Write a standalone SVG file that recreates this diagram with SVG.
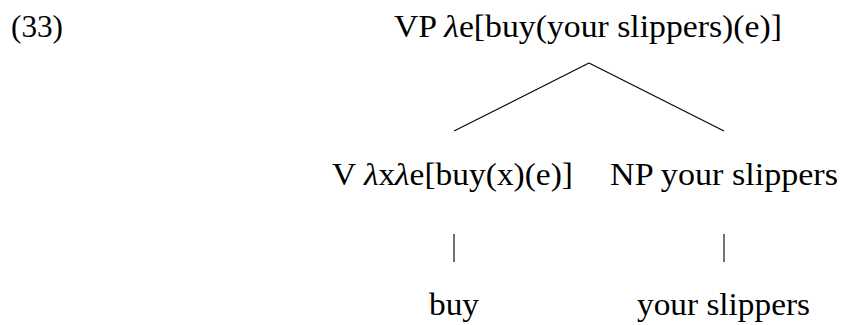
<svg xmlns="http://www.w3.org/2000/svg" width="843" height="325" viewBox="0 0 843 325">
<style>
text{font-family:"Liberation Serif","Times New Roman",serif;font-size:32px;fill:#000}
.l{font-style:italic}
line{stroke:#000;stroke-width:1.1}
</style>
<rect width="843" height="325" fill="#fff"/>
<text id="ex" x="11" y="37" textLength="52" lengthAdjust="spacingAndGlyphs">(33)</text>
<g id="vp"><text x="394" y="37" textLength="388" lengthAdjust="spacingAndGlyphs">VP <tspan class="l">λ</tspan>e[buy(your slippers)(e)]</text></g>
<g id="v"><text x="332" y="185" textLength="241" lengthAdjust="spacingAndGlyphs">V <tspan class="l">λ</tspan>x<tspan class="l">λ</tspan>e[buy(x)(e)]</text></g>
<g id="np"><text x="610" y="185" textLength="228" lengthAdjust="spacingAndGlyphs">NP your slippers</text></g>
<g id="buy"><text x="429" y="315" textLength="50" lengthAdjust="spacingAndGlyphs">buy</text></g>
<g id="ys"><text x="637" y="315" textLength="173" lengthAdjust="spacingAndGlyphs">your slippers</text></g>
<g id="connectors">
<line x1="589" y1="63" x2="454" y2="131"/>
<line x1="589" y1="63" x2="724" y2="131"/>
<line x1="454" y1="234" x2="454" y2="262"/>
<line x1="724" y1="234" x2="724" y2="262"/>
</g>
</svg>
